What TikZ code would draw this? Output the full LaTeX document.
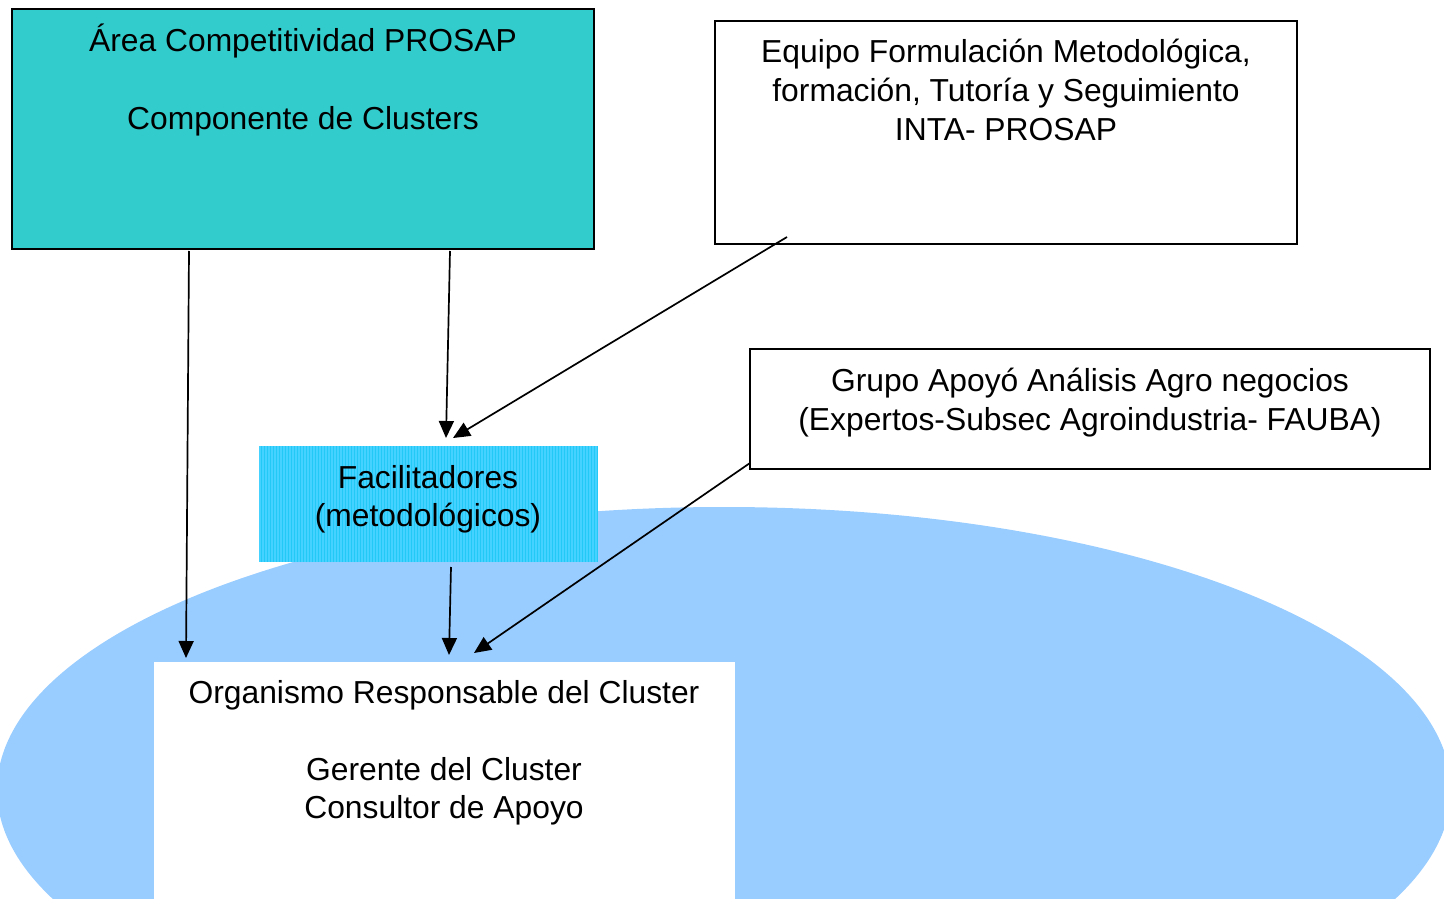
\documentclass[tikz,border=0pt]{standalone}
\usepackage{fontspec}
\setmainfont{Liberation Sans}
\usetikzlibrary{arrows.meta}
\definecolor{tealbox}{HTML}{33CCCC}
\definecolor{ellblue}{HTML}{99CCFF}
\definecolor{facbase}{HTML}{45D2FF}
\definecolor{facgrid}{HTML}{22C8F6}
\begin{document}
\begin{tikzpicture}[x=1pt,y=-1pt,
  txt/.style={anchor=base,inner sep=0pt,font=\fontsize{31.8}{38.5}\selectfont},
  box/.style={draw=black,line width=1.8pt,inner sep=0pt,outer sep=0pt,rectangle},
  plainbox/.style={inner sep=0pt,outer sep=0pt,rectangle},
  conn/.style={line width=1.7pt,-{Triangle[length=17pt,width=15pt]}}]
\useasboundingbox (0,0) rectangle (1444,899);
% background ellipse
\begin{scope}
\clip (0,0) rectangle (1444,899);
\fill[ellblue] (724,790) ellipse [x radius=727, y radius=283];
\end{scope}
% boxes
\node[plainbox,fill=white,minimum width=581,minimum height=237] (org) at (444.5,780.5) {};
\node[plainbox,fill=facbase,minimum width=338,minimum height=116] (fac) at (428,504) {};
\draw[facgrid,line width=0.5pt,step=3] (fac.south west) grid (fac.north east);
\node[box,fill=tealbox,minimum width=582,minimum height=240] (b1) at (303,129) {};
\node[box,fill=white,minimum width=582,minimum height=223] (b2) at (1006,132.5) {};
\node[box,fill=white,minimum width=680,minimum height=120] (b3) at (1090,409) {};
% connector ends
\coordinate (a1s) at (189,251); \coordinate (a1e) at (186,658);
\coordinate (a2s) at (450,251); \coordinate (a2e) at (446,438);
\coordinate (a3s) at (787,237); \coordinate (a3e) at (453,438);
\coordinate (a4s) at (451,567); \coordinate (a4e) at (449,655);
\coordinate (a5s) at (750,463); \coordinate (a5e) at (474,653);
\draw[conn] (a1s) -- (a1e);
\draw[conn] (a2s) -- (a2e);
\draw[conn] (a3s) -- (a3e);
\draw[conn] (a4s) -- (a4e);
\draw[conn] (a5s) -- (a5e);
% texts
\node[txt] (t11) at (303,52) {Área Competitividad PROSAP};
\node[txt] (t12) at (303,129) {Componente de Clusters};
\node[txt] (t21) at (1006,63) {Equipo Formulación Metodológica,};
\node[txt] (t22) at (1006,101.5) {formación, Tutoría y Seguimiento};
\node[txt] (t23) at (1006,140) {INTA- PROSAP};
\node[txt] (t31) at (1090,391) {Grupo Apoyó Análisis Agro negocios};
\node[txt] (t32) at (1090,430) {(Expertos-Subsec Agroindustria- FAUBA)};
\node[txt] (tf1) at (428,488) {Facilitadores};
\node[txt] (tf2) at (428,526) {(metodológicos)};
\node[txt] (to1) at (444,703) {Organismo Responsable del Cluster};
\node[txt] (to2) at (444,780) {Gerente del Cluster};
\node[txt] (to3) at (444,818) {Consultor de Apoyo};
\end{tikzpicture}
\end{document}
